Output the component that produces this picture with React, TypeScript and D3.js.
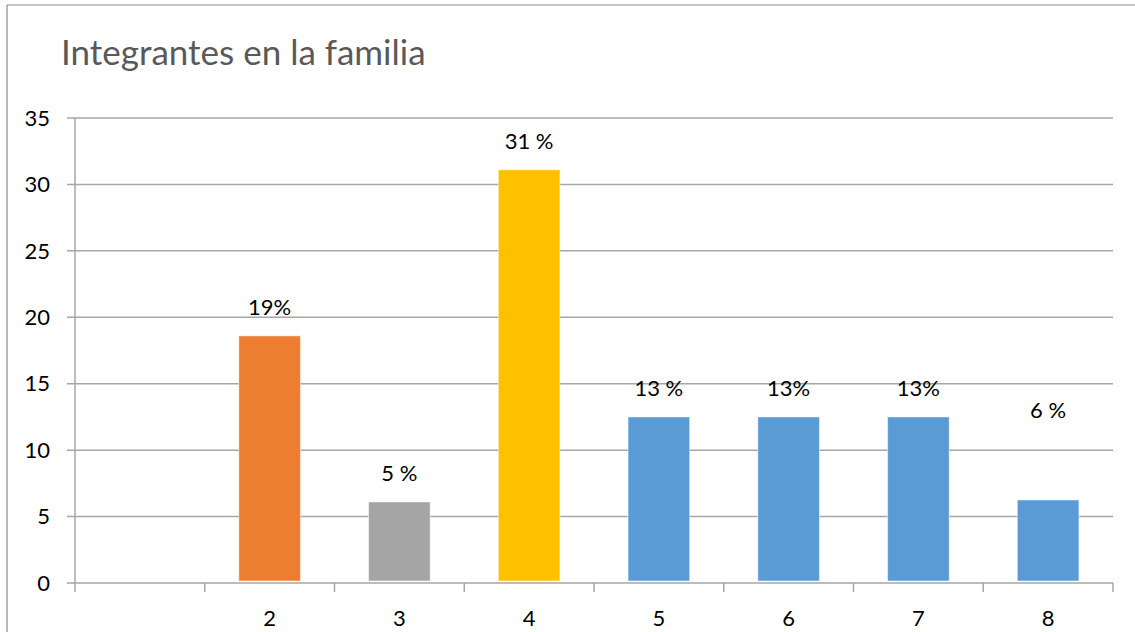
import React from "react";
import * as d3 from "d3";

const categories = ["", "2", "3", "4", "5", "6", "7", "8"];
const values = [null, 18.6, 6.1, 31.1, 12.5, 12.5, 12.5, 6.25];
const labels = ["", "19%", "5 %", "31 %", "13 %", "13%", "13%", "6 %"];
const colors = ["", "#ED7D31", "#A5A5A5", "#FFC000", "#5B9BD5", "#5B9BD5", "#5B9BD5", "#5B9BD5"];
const yTicks = [0, 5, 10, 15, 20, 25, 30, 35];

const W = 1135;
const H = 632;
const left = 75;
const right = 1113;
const top = 118;
const bottom = 583;
const FONT = "Lato, 'Open Sans', sans-serif";

export default function App() {
  const x = d3.scaleBand<string>().domain(categories.map((c, i) => String(i))).range([left, right]).paddingInner(0.525).paddingOuter(0.2625);
  const band = d3.scaleBand<string>().domain(categories.map((c, i) => String(i))).range([left, right]);
  const y = d3.scaleLinear().domain([0, 35]).range([bottom, top]);

  return (
    <svg width={W} height={H} style={{ position: "fixed", left: 0, top: 0, background: "#fff" }} fontFamily={FONT}>
      <rect x={0} y={0} width={W} height={H} fill="#fff" />
      <line x1={7} y1={5} x2={W} y2={5} stroke="#8c8c8c" strokeWidth={1.2} />
      <line x1={7} y1={5} x2={7} y2={H} stroke="#8c8c8c" strokeWidth={1.2} />
      <text x={61} y={65} fontSize={35} fill="#595959">Integrantes en la familia</text>
      {yTicks.map((t) => (
        <g key={t}>
          <line x1={left - 8} x2={right} y1={y(t)} y2={y(t)} stroke="#a6a6a6" strokeWidth={1.5} />
          <text x={50} y={y(t)} dy="0.35em" textAnchor="end" fontSize={22} fill="#000">{t}</text>
        </g>
      ))}
      <line x1={left} x2={left} y1={top} y2={bottom} stroke="#a6a6a6" strokeWidth={1.5} />
      {categories.map((c, i) => {
        const bx = band(String(i))!;
        return (
          <line key={"t" + i} x1={bx} x2={bx} y1={bottom} y2={bottom + 9} stroke="#a6a6a6" strokeWidth={1.5} />
        );
      })}
      <line x1={right} x2={right} y1={bottom} y2={bottom + 9} stroke="#a6a6a6" strokeWidth={1.5} />
      {categories.map((c, i) => (
        <text key={"c" + i} x={band(String(i))! + band.bandwidth() / 2} y={618} dy="0.35em" textAnchor="middle" fontSize={22} fill="#000">{c}</text>
      ))}
      {values.map((v, i) =>
        v == null ? null : (
          <rect key={"b" + i} x={x(String(i))!} y={y(v)} width={x.bandwidth()} height={bottom - 2 - y(v)} fill={colors[i]} stroke="#fff" strokeOpacity={0.5} strokeWidth={1} />
        )
      )}
      {values.map((v, i) =>
        v == null ? null : (
          <text key={"l" + i} x={band(String(i))! + band.bandwidth() / 2} y={y(v) - (i === 7 ? 90 : 29)} dy="0.35em" textAnchor="middle" fontSize={22} fill="#000">{labels[i]}</text>
        )
      )}
    </svg>
  );
}
